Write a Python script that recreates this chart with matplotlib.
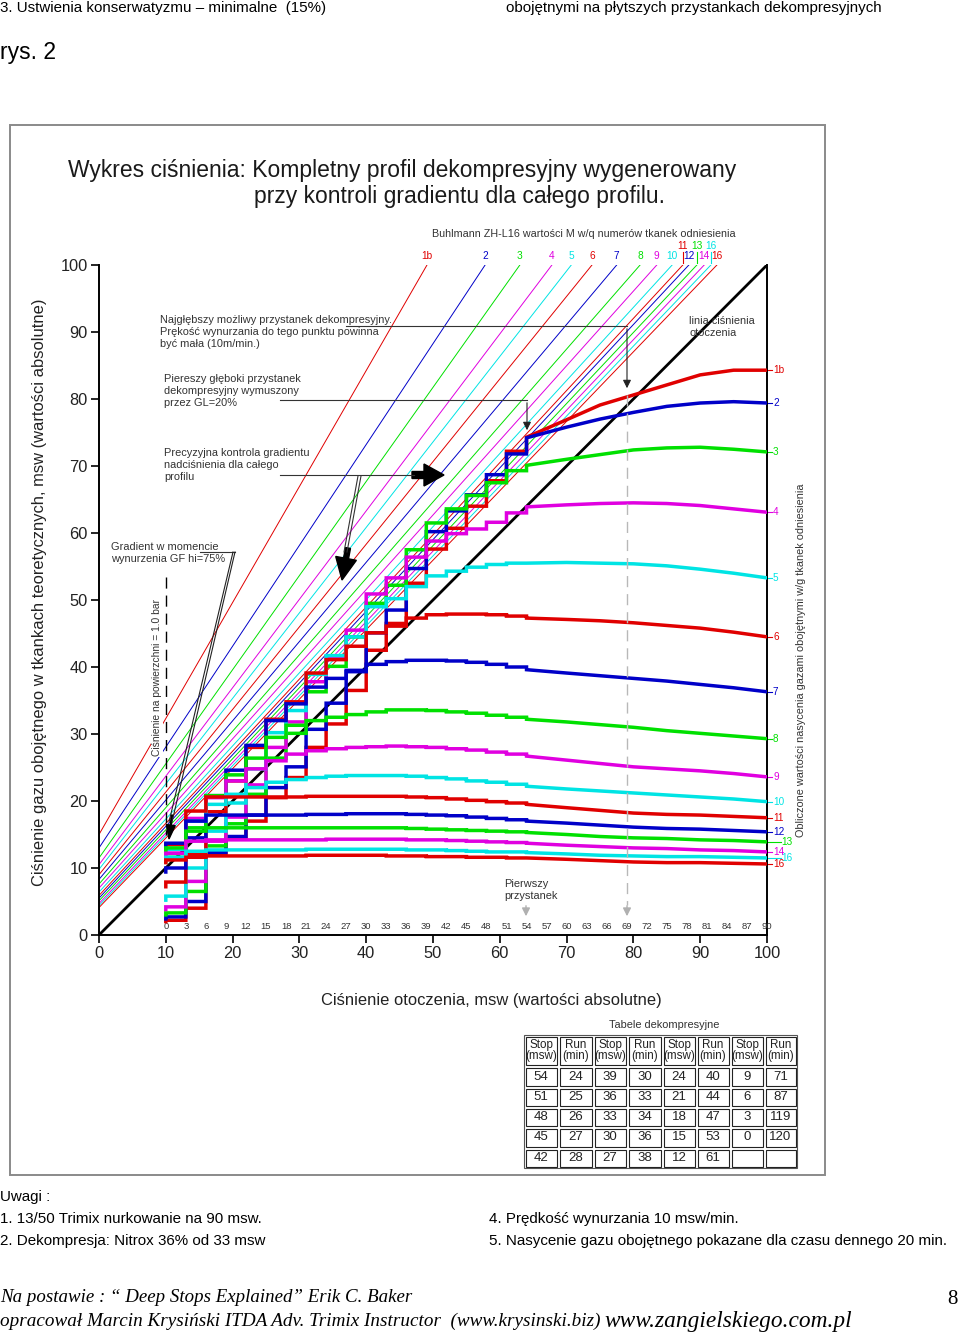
import matplotlib
matplotlib.use('Agg')
import matplotlib.pyplot as plt
from matplotlib.patches import Rectangle, FancyArrow

plt.rcParams['font.family'] = ['Liberation Sans', 'DejaVu Sans']

# ---------------- data ----------------
COMPARTMENTS = ['1b', '2', '3', '4', '5', '6', '7', '8', '9', '10', '11', '12', '13', '14', '15', '16']
RIGHT_LABELS = ['1b', '2', '3', '4', '5', '6', '7', '8', '9', '10', '11', '12', '13', '14', '16', '16']
TOP_LABELS = ['1b', '2', '3', '4', '5', '6', '7', '8', '9', '10', '11', '12', '13', '14', '16', '16']
COLORS = ['#e00000', '#0000c8', '#00e000', '#e000e0', '#00e4e4'] * 3 + ['#e00000']

# Buhlmann ZH-L16 M-value lines: ambient pressure where M = 100, and M at ambient 0
M_TOP_X = [49.1, 57.8, 63.0, 67.8, 70.7, 73.8, 77.5, 81.0, 83.5, 85.8, 87.4, 88.3, 89.5, 90.6, 91.6, 92.5]
M_LEFT_Y = [15.0, 13.0, 11.5, 10.5, 9.8, 9.0, 8.3, 7.6, 7.0, 6.4, 5.9, 5.5, 5.1, 4.7, 4.4, 4.1]

SURFACE_P = 10
ASC_X = [100, 95, 90, 85, 80, 75, 70, 64]
ASC_Y = [
    [84.3, 84.3, 83.6, 82.1, 80.6, 79.1, 76.9, 74.3],
    [79.4, 79.6, 79.4, 78.9, 78.0, 77.0, 75.8, 74.2],
    [72.1, 72.5, 72.8, 72.7, 72.4, 71.7, 71.0, 70.1],
    [63.1, 63.6, 64.1, 64.4, 64.5, 64.4, 64.2, 63.9],
    [53.3, 54.0, 54.6, 55.1, 55.4, 55.5, 55.6, 55.5],
    [44.5, 45.2, 45.8, 46.2, 46.6, 46.9, 47.1, 47.3],
    [36.3, 36.9, 37.4, 37.9, 38.3, 38.7, 39.1, 39.6],
    [29.3, 29.7, 30.1, 30.5, 31.0, 31.4, 31.8, 32.2],
    [23.6, 24.1, 24.5, 24.8, 25.1, 25.6, 26.1, 26.7],
    [19.9, 20.3, 20.6, 20.9, 21.2, 21.5, 21.8, 22.2],
    [17.5, 17.7, 17.9, 18.0, 18.2, 18.6, 19.0, 19.5],
    [15.4, 15.6, 15.8, 15.9, 16.1, 16.4, 16.7, 17.0],
    [13.9, 14.1, 14.2, 14.4, 14.5, 14.7, 15.0, 15.3],
    [12.4, 12.6, 12.7, 12.9, 13.0, 13.2, 13.4, 13.7],
    [11.5, 11.6, 11.7, 11.7, 11.8, 11.9, 12.1, 12.3],
    [10.6, 10.7, 10.8, 10.8, 10.9, 11.1, 11.3, 11.5],
]

STOP_DEPTHS = [54, 51, 48, 45, 42, 39, 36, 33, 30, 27, 24, 21, 18, 15, 12, 9, 6, 3]
# tissue pressure on arrival at first stop, then after each stop
LEVELS = [
    [74.3, 72.2, 67.8, 64.0, 60.7, 57.6, 52.5, 46.5, 42.5, 36.5, 31.5, 28.0, 23.5, 20.5, 17.0, 14.5, 12.0, 4.0, 2.2],
    [74.2, 71.8, 68.7, 65.7, 63.3, 60.2, 54.7, 48.5, 45.1, 39.3, 34.6, 30.7, 25.1, 22.0, 17.9, 14.7, 12.3, 5.0, 2.7],
    [70.1, 69.3, 67.5, 65.6, 63.6, 61.5, 57.5, 52.2, 49.5, 44.5, 40.1, 36.3, 30.1, 26.4, 21.0, 16.6, 13.3, 6.5, 3.3],
    [63.9, 63.0, 61.6, 60.6, 59.9, 58.8, 56.4, 53.3, 50.9, 45.5, 41.5, 37.8, 31.8, 28.0, 22.4, 17.6, 14.0, 8.0, 4.2],
    [55.5, 55.5, 55.3, 54.9, 54.3, 53.6, 52.0, 50.2, 49.0, 44.5, 41.7, 38.9, 33.5, 30.2, 24.8, 19.7, 15.5, 10.0, 5.8],
    [47.3, 47.6, 47.8, 47.9, 47.9, 47.8, 47.3, 46.1, 45.1, 43.1, 41.1, 39.1, 34.8, 32.2, 28.0, 23.0, 18.4, 12.0, 7.9],
    [39.6, 40.0, 40.4, 40.7, 40.9, 41.0, 41.0, 40.8, 40.4, 39.5, 38.3, 37.0, 34.5, 32.0, 28.3, 24.6, 20.8, 14.5, 10.0],
    [32.2, 32.5, 32.8, 33.1, 33.3, 33.5, 33.6, 33.6, 33.3, 32.9, 32.5, 32.0, 31.3, 29.5, 26.4, 23.9, 20.8, 16.0, 11.6],
    [26.7, 27.0, 27.3, 27.6, 27.8, 28.0, 28.1, 28.2, 28.1, 28.0, 27.8, 27.5, 27.0, 26.0, 24.8, 23.0, 20.5, 17.4, 12.2],
    [22.2, 22.5, 22.8, 23.0, 23.3, 23.5, 23.7, 23.8, 23.8, 23.8, 23.7, 23.5, 23.2, 22.8, 22.0, 21.0, 19.5, 17.0, 12.8],
    [19.5, 19.7, 19.9, 20.1, 20.3, 20.5, 20.6, 20.7, 20.7, 20.7, 20.7, 20.7, 20.6, 20.6, 20.6, 20.6, 20.6, 18.5, 13.5],
    [17.0, 17.2, 17.4, 17.6, 17.8, 17.9, 18.0, 18.1, 18.1, 18.1, 18.0, 18.0, 17.9, 17.9, 17.9, 17.9, 17.9, 17.0, 13.7],
    [15.3, 15.4, 15.5, 15.6, 15.7, 15.8, 15.9, 16.0, 16.0, 16.0, 16.0, 16.0, 16.0, 16.0, 16.0, 16.0, 16.0, 15.5, 13.0],
    [13.7, 13.8, 13.9, 14.0, 14.1, 14.2, 14.2, 14.3, 14.3, 14.3, 14.3, 14.2, 14.2, 14.2, 14.2, 14.2, 14.2, 14.0, 12.2],
    [12.3, 12.4, 12.4, 12.5, 12.6, 12.7, 12.7, 12.8, 12.8, 12.8, 12.8, 12.8, 12.7, 12.7, 12.7, 12.7, 12.7, 12.5, 11.6],
    [11.5, 11.5, 11.6, 11.6, 11.7, 11.7, 11.8, 11.8, 11.9, 11.9, 11.9, 11.9, 11.8, 11.8, 11.8, 11.8, 11.8, 11.6, 11.2],
]
# tissue pressure at the surface (end of the profile)
SURFACE_END = [2.0, 2.4, 3.0, 3.8, 5.2, 7.2, 9.4, 10.9, 11.6, 12.2, 12.9, 13.2, 12.6, 11.8, 11.2, 10.8]

TABLE_STOPS = [54, 51, 48, 45, 42, 39, 36, 33, 30, 27, 24, 21, 18, 15, 12, 9, 6, 3, 0]
TABLE_RUNS = [24, 25, 26, 27, 28, 30, 33, 34, 36, 38, 40, 44, 47, 53, 61, 71, 87, 119, 120]

AXIS_TICKS = list(range(0, 101, 10))
DEPTH_TICKS = list(range(0, 91, 3))

# ---------------- figure ----------------
fig = plt.figure(figsize=(9.6, 13.34), dpi=100)
ax = fig.add_axes([99 / 960, 1 - 935 / 1334, 668 / 960, 670 / 1334], zorder=2)
ax.patch.set_alpha(0)
ax.set_xlim(0, 100)
ax.set_ylim(0, 100)
for s in ['left', 'bottom', 'right']:
    ax.spines[s].set_linewidth(1.4)
ax.spines['top'].set_visible(False)
ax.set_xticks(AXIS_TICKS)
ax.set_yticks(AXIS_TICKS)
ax.tick_params(direction='out', length=6, width=1.2, labelsize=11.8, pad=2, labelcolor='#222222')

# M-value lines
for i in range(16):
    ax.plot([M_TOP_X[i], 0], [100, M_LEFT_Y[i]], color=COLORS[i], lw=0.7, zorder=1)

# ambient pressure line
ax.plot([0, 100], [0, 100], color='black', lw=2.0, zorder=3)

# tissue curves
for i in range(16):
    xs = list(ASC_X)
    ys = list(ASC_Y[i])
    L = LEVELS[i]
    for k, d in enumerate(STOP_DEPTHS):
        p = d + SURFACE_P
        nxt = STOP_DEPTHS[k + 1] + SURFACE_P if k + 1 < len(STOP_DEPTHS) else SURFACE_P
        xs += [p, nxt]
        ys += [L[k + 1], L[k + 1]]
    xs.append(SURFACE_P)
    ys.append(SURFACE_END[i])
    ax.plot(xs, ys, color=COLORS[i], lw=2.5, zorder=4, solid_joinstyle='miter')

# depth scale
for d in DEPTH_TICKS:
    ax.text(d + SURFACE_P, 1.3, str(d), ha='center', va='center', fontsize=6.8, color='#333333')

# right labels
dx_right = {12: 1.3, 14: 1.3}
for i in range(16):
    y = ASC_Y[i][0]
    ext = dx_right.get(i, 0)
    ax.plot([100, 100.8 + ext], [y, y], color=COLORS[i], lw=0.8, clip_on=False)
    ax.text(100.9 + ext, y, RIGHT_LABELS[i], color=COLORS[i], fontsize=7.2, va='center', ha='left',
            clip_on=False)

# top labels
upper = {10, 12, 14}
for i in range(16):
    x = M_TOP_X[i]
    if i in upper:
        ax.plot([x, x], [100.3, 101.9], color=COLORS[i], lw=0.8, clip_on=False)
        ax.text(x, 102.9, TOP_LABELS[i], color=COLORS[i], fontsize=7.3, ha='center', va='center', clip_on=False)
    else:
        ax.text(x, 101.3, TOP_LABELS[i], color=COLORS[i], fontsize=7.3, ha='center', va='center', clip_on=False)

# ---------------- overlay (pixel coordinates) ----------------
ov = fig.add_axes([0, 0, 1, 1], zorder=5)
ov.set_xlim(0, 960)
ov.set_ylim(1334, 0)
ov.axis('off')
ov.patch.set_alpha(0)

ov.add_patch(Rectangle((10, 125), 815, 1050, fill=False, edgecolor='#8a8a8a', lw=1.4))

ov.text(0, 8, '3. Ustwienia konserwatyzmu – minimalne  (15%)', fontsize=10.9, va='center', ha='left')
ov.text(506, 8, 'obojętnymi na płytszych przystankach dekompresyjnych', fontsize=10.9, va='center', ha='left')
ov.text(0, 52, 'rys. 2', fontsize=16.5, va='center', ha='left')

ov.text(68, 170, 'Wykres ciśnienia: Kompletny profil dekompresyjny wygenerowany', fontsize=16.5,
        va='center', ha='left', color='#1a1a1a')
ov.text(254, 197, 'przy kontroli gradientu dla całego profilu.', fontsize=16.5,
        va='center', ha='left', color='#1a1a1a')
ov.text(432, 234, 'Buhlmann ZH-L16 wartości M w/q numerów tkanek odniesienia', fontsize=7.75,
        va='center', ha='left', color='#333333')

ov.text(40, 592, 'Ciśnienie gazu obojętnego w tkankach teoretycznych, msw (wartości absolutne)',
        rotation=90, fontsize=11.9, va='center', ha='center', color='#222222')
ov.text(491, 1001, 'Ciśnienie otoczenia, msw (wartości absolutne)', fontsize=11.9,
        va='center', ha='center', color='#222222')
ov.text(801, 660, 'Obliczone wartości nasycenia gazami obojętnymi w/g tkanek odniesienia', rotation=90,
        fontsize=7.8, va='center', ha='center', color='#333333')

tc = '#333333'
fs = 7.9
ls = 1.3
ov.text(160, 332, 'Najgłębszy możliwy przystanek dekompresyjny.\nPrękość wynurzania do tego punktu powinna\nbyć mała (10m/min.)',
        fontsize=fs, va='center', ha='left', color=tc, linespacing=ls)
ov.plot([346, 627], [326, 326], color='#333333', lw=0.8)
ov.annotate('', xy=(627, 391), xytext=(627, 326),
            arrowprops=dict(arrowstyle='-|>', color='#222222', lw=0.8, mutation_scale=12))
ov.text(164, 391, 'Piereszy głęboki przystanek\ndekompresyjny wymuszony\nprzez GL=20%',
        fontsize=fs, va='center', ha='left', color=tc, linespacing=ls)
ov.plot([280, 527], [400, 400], color='#333333', lw=0.8)
ov.annotate('', xy=(527, 433), xytext=(527, 400),
            arrowprops=dict(arrowstyle='-|>', color='#222222', lw=0.8, mutation_scale=12))
ov.text(164, 465, 'Precyzyjna kontrola gradientu\nnadciśnienia dla całego\nprofilu',
        fontsize=fs, va='center', ha='left', color=tc, linespacing=ls)
ov.plot([280, 414], [475, 475], color='#333333', lw=0.8)
ov.add_patch(FancyArrow(412, 475, 32, 0, width=7, head_width=22, head_length=20,
                        length_includes_head=True, color='black'))
ov.plot([361, 347], [476, 552], color='#333333', lw=0.8)
ov.plot([358, 344], [476, 552], color='#333333', lw=0.8)
ov.add_patch(FancyArrow(348, 548, -6, 32, width=5, head_width=21, head_length=22,
                        length_includes_head=True, color='black'))

ov.text(111, 553, 'Gradient w momencie\nwynurzenia GF hi=75%', fontsize=fs, va='center', ha='left',
        color=tc, linespacing=ls)
ov.plot([200, 235], [552, 552], color='#333333', lw=0.8)
ov.plot([235, 172], [552, 822], color='#222222', lw=0.8)
ov.plot([233, 169], [552, 822], color='#222222', lw=0.8)
ov.add_patch(FancyArrow(172, 815, -3, 24, width=1, head_width=9, head_length=14,
                        length_includes_head=True, color='black'))

ov.plot([166, 166], [577, 835], color='black', lw=1.0, linestyle=(0, (8, 5)))
ov.text(157, 678, 'Ciśnienie na powierzchni = 1.0 bar', rotation=90, fontsize=7.4,
        va='center', ha='center', color=tc,
        bbox=dict(facecolor='white', edgecolor='none', pad=0.5))

ov.text(689, 327, 'linia ciśnienia\notoczenia', fontsize=fs, va='center', ha='left', color=tc,
        linespacing=ls)

ov.text(504, 890, 'Pierwszy\nprzystanek', fontsize=fs, va='center', ha='left', color=tc,
        linespacing=ls)
ov.annotate('', xy=(526, 919), xytext=(526, 903),
            arrowprops=dict(arrowstyle='-|>', color='#b0b0b0', lw=1.0, mutation_scale=12))
ov.plot([627, 627], [395, 905], color='#b8b8b8', lw=1.0, linestyle=(0, (8, 5)))
ov.annotate('', xy=(627, 919), xytext=(627, 903),
            arrowprops=dict(arrowstyle='-|>', color='#b0b0b0', lw=1.0, mutation_scale=12))

# ---------------- decompression table ----------------
ov.text(664, 1025, 'Tabele dekompresyjne', fontsize=7.9, ha='center', va='center', color=tc)
col_edges = [524, 558, 593, 627, 662, 696, 730, 764, 797]
row_edges = [1035, 1066, 1087, 1107, 1127, 1148, 1168]
ov.add_patch(Rectangle((col_edges[0], row_edges[0]), col_edges[-1] - col_edges[0],
                       row_edges[-1] - row_edges[0], fill=False, edgecolor='#555555', lw=0.8))
for ci in range(8):
    for ri in range(6):
        x0, x1 = col_edges[ci], col_edges[ci + 1]
        y0, y1 = row_edges[ri], row_edges[ri + 1]
        ov.add_patch(Rectangle((x0 + 1.5, y0 + 1.5), x1 - x0 - 3, y1 - y0 - 3, fill=False,
                               edgecolor='#222222', lw=0.8))
        xc = (x0 + x1) / 2
        yc = (y0 + y1) / 2
        if ri == 0:
            txt = 'Stop\n(msw)' if ci % 2 == 0 else 'Run\n(min)'
            ov.text(xc, yc, txt, fontsize=8.4, ha='center', va='center', linespacing=0.95, color='#222222')
        else:
            idx = (ci // 2) * 5 + (ri - 1)
            if idx < len(TABLE_STOPS):
                val = TABLE_STOPS[idx] if ci % 2 == 0 else TABLE_RUNS[idx]
                ov.text(xc, yc, str(val), fontsize=9.5, ha='center', va='center', color='#222222')

# ---------------- notes & footer ----------------
nfs = 10.9
ov.text(0, 1197, 'Uwagi :', fontsize=nfs, va='center', ha='left')
ov.text(0, 1219, '1. 13/50 Trimix nurkowanie na 90 msw.', fontsize=nfs, va='center', ha='left')
ov.text(0, 1241, '2. Dekompresja: Nitrox 36% od 33 msw', fontsize=nfs, va='center', ha='left')
ov.text(489, 1219, '4. Prędkość wynurzania 10 msw/min.', fontsize=nfs, va='center', ha='left')
ov.text(489, 1241, '5. Nasycenie gazu obojętnego pokazane dla czasu dennego 20 min.', fontsize=nfs,
        va='center', ha='left')

ov.text(0, 1297, 'Na postawie : “ Deep Stops Explained” Erik C. Baker', fontsize=13.6,
        family='Liberation Serif', style='italic', va='center', ha='left')
ov.text(0, 1321, 'opracował Marcin Krysiński ITDA Adv. Trimix Instructor  (www.krysinski.biz)',
        fontsize=13.8, family='Liberation Serif', style='italic', va='center', ha='left')
ov.text(604, 1321, 'www.zangielskiego.com.pl', fontsize=16.8, family='Liberation Serif',
        style='italic', va='center', ha='left')
ov.text(952, 1300, '8', fontsize=15, family='Liberation Serif', va='center', ha='center')

fig.savefig('out.png', dpi=100)
